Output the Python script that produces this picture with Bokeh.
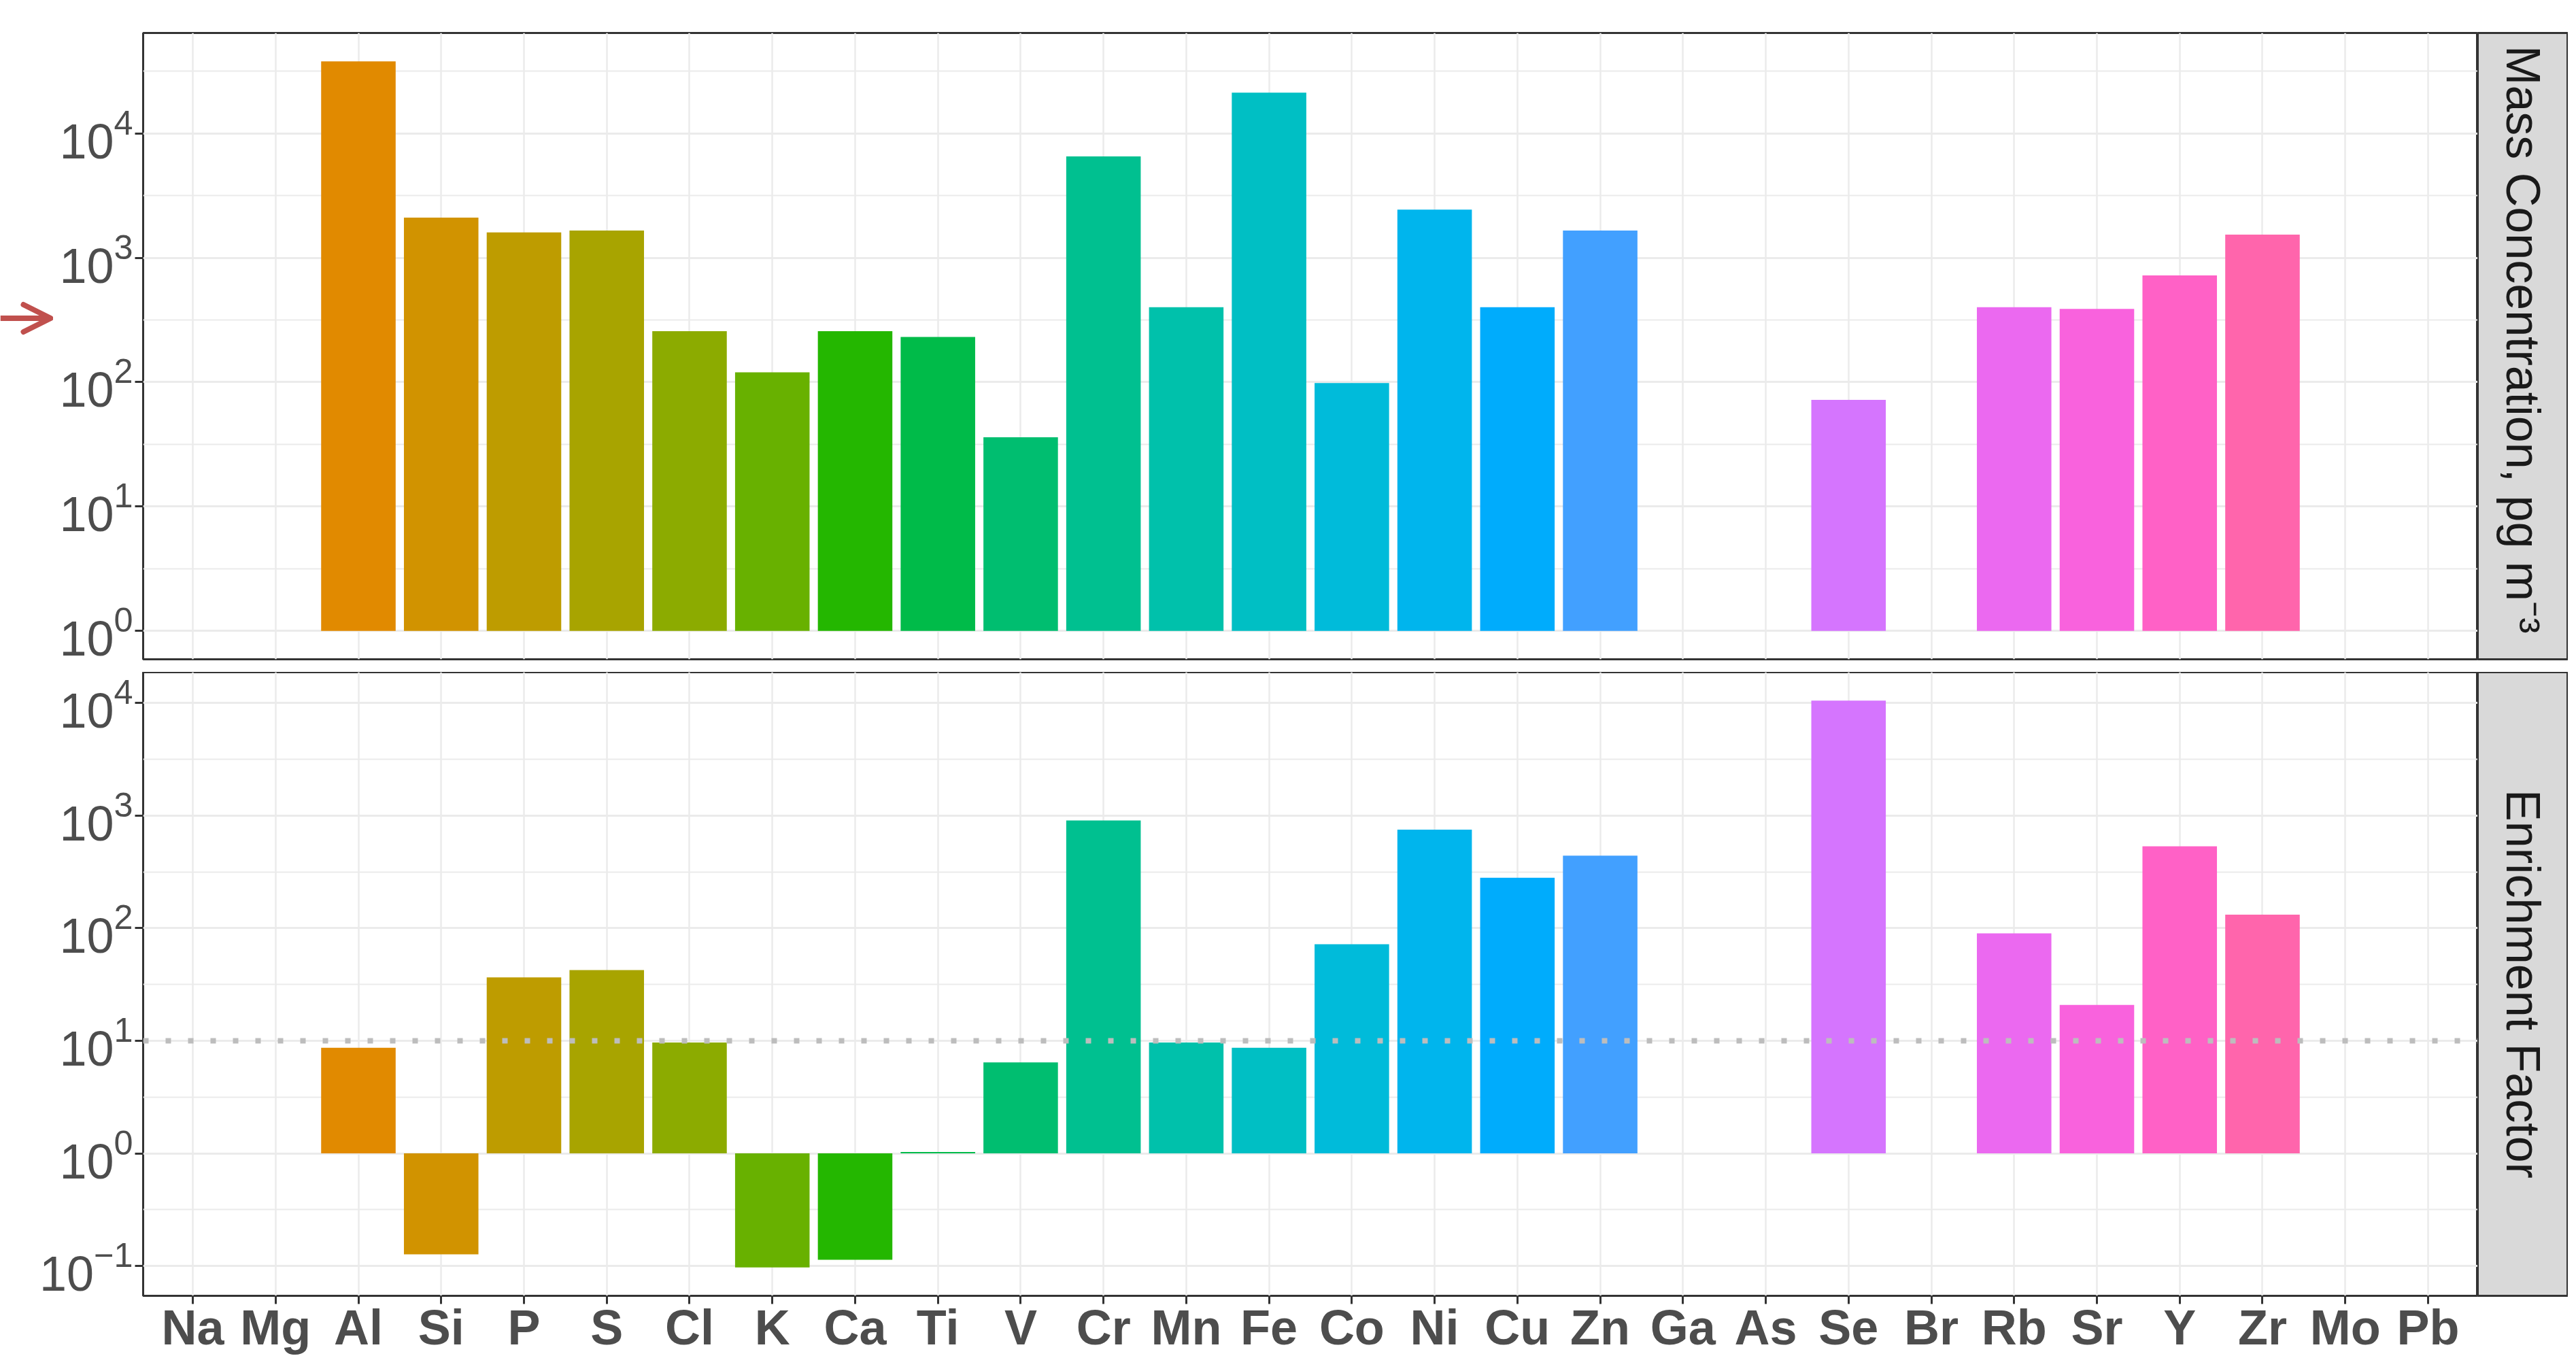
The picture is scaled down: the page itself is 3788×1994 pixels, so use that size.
import math
from bokeh.plotting import figure
from bokeh.models import (ColumnDataSource, FactorRange, Range1d, FixedTicker, Span,
                          Arrow, OpenHead)
from bokeh.layouts import row, column
from bokeh.embed import file_html
from bokeh.resources import INLINE
from bokeh.core.properties import value

# ---------------- data ----------------
elements = ["Na", "Mg", "Al", "Si", "P", "S", "Cl", "K", "Ca", "Ti", "V", "Cr", "Mn", "Fe",
            "Co", "Ni", "Cu", "Zn", "Ga", "As", "Se", "Br", "Rb", "Sr", "Y", "Zr", "Mo", "Pb"]
mass_conc = [None, None, 38000, 2110, 1600, 1660, 257, 120, 257, 231, 36, 6550, 401, 21300,
             98.5, 2440, 401, 1660, None, None, 72, None, 401, 389, 723, 1538, None, None]
enrichment = [None, None, 8.67, 0.127, 36.6, 42.4, 9.66, 0.097, 0.1135, 1.03, 6.43, 906, 9.66, 8.67,
              72, 749, 280, 441, None, None, 10500, None, 90, 20.8, 533, 132, None, None]
ef_threshold = 10
panel_labels = ["Mass Concentration, pg  m\u207b\u00b3", "Enrichment Factor"]
major_exponents = [-1, 0, 1, 2, 3, 4]
# levels of the fill scale (order used by the colour palette)
fill_levels = [e for e in elements if e not in ("Br", "Mo")]

# ---------------- colours: ggplot2 default hue palette ----------------
def hcl_hex(h, c=100.0, l=65.0):
    hr = math.radians(h)
    U, V = c * math.cos(hr), c * math.sin(hr)
    Y = ((l + 16) / 116) ** 3 if l > 7.999592 else l / 903.3
    u = U / (13 * l) + 0.1978398
    v = V / (13 * l) + 0.4683363
    X = 9.0 * Y * u / (4 * v)
    Z = -X / 3 - 5 * Y + 3 * Y / v

    def g(t):
        t = 1.055 * t ** (1 / 2.4) - 0.055 if t > 0.00304 else 12.92 * t
        return int(255 * min(max(t, 0.0), 1.0) + 0.5)
    r = g(3.240479 * X - 1.537150 * Y - 0.498535 * Z)
    gg = g(-0.969256 * X + 1.875992 * Y + 0.041556 * Z)
    b = g(0.055648 * X - 0.204043 * Y + 1.057311 * Z)
    return "#%02X%02X%02X" % (r, gg, b)

palette = {e: hcl_hex(15 + i * 360.0 / len(fill_levels)) for i, e in enumerate(fill_levels)}

# ---------------- layout sizes ----------------
ARW = 78                     # width of the margin holding the red arrow
LEFT, FW, SW = 210, 3433, 133
TOP, F1, GAP, F2, BOT = 48, 921, 19, 920, 86
H1 = TOP + F1 + GAP
H2 = F2 + BOT

FONT = "Liberation Sans"
GRID = "#EBEBEB"
DARK = "#333333"

x_range = FactorRange(factors=elements, range_padding=0.1, range_padding_units="absolute")


def log_range(vals):
    lv = [math.log10(v) for v in vals] + [0.0]
    lo, hi = min(lv), max(lv)
    pad = 0.05 * (hi - lo)
    return Range1d(10 ** (lo - pad), 10 ** (hi + pad))


def panel(vals, width, left_border, height, top_border, bottom_border, show_x):
    xs = [e for e, v in zip(elements, vals) if v is not None]
    ys = [v for v in vals if v is not None]
    src = ColumnDataSource(dict(x=xs, top=ys, bottom=[1] * len(ys),
                                color=[palette[e] for e in xs]))
    p = figure(width=width, height=height, x_range=x_range, y_range=log_range(ys),
               y_axis_type="log", x_axis_location="below" if show_x else None,
               output_backend="svg", toolbar_location=None,
               min_border_left=left_border, min_border_right=0,
               min_border_top=top_border, min_border_bottom=bottom_border)
    p.vbar(x="x", top="top", bottom="bottom", width=0.9, fill_color="color",
           line_color=None, source=src)
    p.outline_line_color = DARK
    p.outline_line_width = 3
    p.background_fill_color = "white"

    yt = FixedTicker(ticks=[10.0 ** k for k in major_exponents],
                     minor_ticks=[10.0 ** (k + 0.5) for k in range(-2, 6)])
    p.yaxis.ticker = yt
    p.yaxis.axis_line_color = None
    p.yaxis.major_tick_line_color = DARK
    p.yaxis.major_tick_line_width = 3
    p.yaxis.major_tick_out = 12
    p.yaxis.major_tick_in = 0
    p.yaxis.minor_tick_line_color = None
    p.yaxis.major_label_standoff = 3
    p.yaxis.major_label_text_font = FONT
    p.yaxis.major_label_text_font_size = "72px"
    p.yaxis.major_label_text_color = "#4D4D4D"

    p.ygrid.grid_line_color = GRID
    p.ygrid.grid_line_width = 3
    p.ygrid.minor_grid_line_color = GRID
    p.ygrid.minor_grid_line_width = 2
    p.xgrid.grid_line_color = GRID
    p.xgrid.grid_line_width = 2.5

    if show_x:
        p.xaxis.axis_line_color = None
        p.xaxis.major_tick_line_color = DARK
        p.xaxis.major_tick_line_width = 3
        p.xaxis.major_tick_out = 12
        p.xaxis.major_tick_in = 0
        p.xaxis.major_label_standoff = -6
        p.xaxis.major_label_text_font = FONT
        p.xaxis.major_label_text_font_style = "bold"
        p.xaxis.major_label_text_font_size = "72px"
        p.xaxis.major_label_text_color = "#4D4D4D"
    return p


def strip(label, height, top_border, bottom_border):
    s = figure(width=SW, height=height, x_range=Range1d(0, 1), y_range=Range1d(0, 1),
               x_axis_location=None, y_axis_location=None,
               output_backend="svg", toolbar_location=None,
               min_border_left=0, min_border_right=0,
               min_border_top=top_border, min_border_bottom=bottom_border)
    s.grid.visible = False
    s.background_fill_color = "#D9D9D9"
    s.outline_line_color = DARK
    s.outline_line_width = 3
    s.text(x=[0.5], y=[0.5], text=[label], angle=-math.pi / 2,
           text_align="center", text_baseline="middle",
           text_font=value(FONT), text_font_size="70px", text_color="#1A1A1A")
    return s


p1 = panel(mass_conc, LEFT - ARW + FW, LEFT - ARW, H1, TOP, GAP, False)
p2 = panel(enrichment, LEFT + FW, LEFT, H2, 0, BOT, True)

p2.add_layout(Span(location=ef_threshold, dimension="width", line_color="#BDBDBD",
                   line_width=8, line_dash="8 25"))

# margin area with the red marker arrow (pixel coordinates, y upwards)
af = figure(width=ARW, height=H1, x_range=Range1d(0, ARW), y_range=Range1d(0, H1),
            x_axis_location=None, y_axis_location=None, output_backend="svg",
            toolbar_location=None, min_border=0)
af.grid.visible = False
af.outline_line_color = None
ARROW_Y = H1 - 450
af.add_layout(Arrow(x_start=0, y_start=ARROW_Y, x_end=ARW - 4, y_end=ARROW_Y,
                    line_color="#C0504D", line_width=8,
                    end=OpenHead(size=40, line_color="#C0504D", line_width=8,
                                 line_cap="round", line_join="round")))

s1 = strip(panel_labels[0], H1, TOP, GAP)
s2 = strip(panel_labels[1], H2, 0, BOT)

layout = column(row(af, p1, s1), row(p2, s2))

with open("out.html", "w") as f:
    f.write(file_html(layout, INLINE))
